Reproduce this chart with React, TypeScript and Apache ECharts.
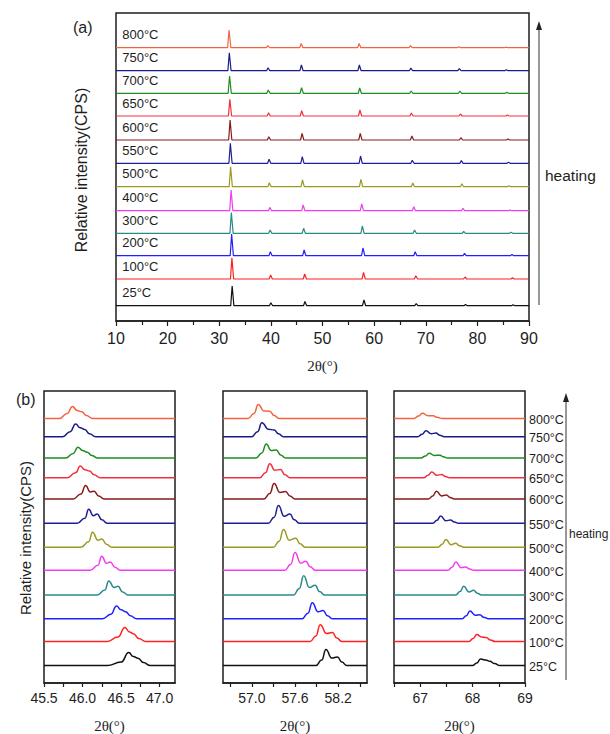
import React, { useEffect, useRef } from "react";
import * as echarts from "echarts";

// Temperatures, bottom (25°C) to top (800°C)
const temps = ["25°C", "100°C", "200°C", "300°C", "400°C", "500°C", "550°C", "600°C", "650°C", "700°C", "750°C", "800°C"];
const colors = ["#111111", "#ff2020", "#2020ff", "#2a8a8a", "#f23cf2", "#9c9a1e", "#1e1e96", "#8a1a1a", "#f2303c", "#1f8c1f", "#1a1a8a", "#f2643f"];

// (a) baseline offsets of the stacked patterns
const offsetsA = [15.3, 42, 65.3, 87.7, 110.3, 134.3, 157.7, 181, 205, 227.7, 250.3, 273.3];
// (b) baseline offsets of the stacked zooms
const offsetsB = [17.4, 41.5, 64.3, 88, 112.8, 135.8, 159.7, 184.1, 205.2, 225.1, 246.3, 264.5];

// (a) peak positions (2θ) and heights, per temperature
const pk32x = [32.5, 32.45, 32.4, 32.35, 32.3, 32.2, 32.15, 32.1, 32.05, 32.0, 31.95, 31.9];
const pk32h = [19.7, 21.3, 21.7, 20.7, 20.7, 20, 20, 20, 16.7, 17.3, 18, 17.7];
const pk40x = [40.0, 39.95, 39.9, 39.85, 39.8, 39.7, 39.65, 39.6, 39.55, 39.5, 39.45, 39.4];
const pk40h = [3, 4, 4, 3.3, 3.3, 4, 4, 3.3, 3.3, 3.3, 3, 2];
const pk46x = [46.6, 46.55, 46.44, 46.34, 46.25, 46.13, 46.08, 46.04, 45.97, 45.94, 45.91, 45.87];
const pk46h = [4.3, 5, 5.7, 5, 5.7, 6.7, 6.7, 6.7, 5.3, 5.7, 5.7, 4.3];
const pk58x = [58.03, 57.95, 57.84, 57.72, 57.6, 57.44, 57.37, 57.31, 57.25, 57.2, 57.14, 57.09];
const pk58h = [5.7, 6.7, 7.7, 7.3, 6.7, 7.3, 7.3, 6.7, 6, 5.3, 5.7, 4.3];
const pk68x = [68.15, 68.08, 67.95, 67.83, 67.68, 67.49, 67.39, 67.31, 67.22, 67.17, 67.11, 67.04];
const pk68h = [2, 3.3, 4, 3.3, 4, 3.7, 3, 4, 3, 2.3, 2.7, 2];
const pk77x = [77.7, 77.6, 77.5, 77.35, 77.2, 77.0, 76.9, 76.8, 76.7, 76.6, 76.5, 76.4];
const pk77h = [1.3, 2, 2.3, 2, 2.3, 3, 2.7, 2.3, 2, 2.3, 2, 1];
const pk87x = [86.9, 86.8, 86.7, 86.5, 86.3, 86.1, 86.0, 85.9, 85.8, 85.7, 85.6, 85.5];
const pk87h = [1, 1.3, 1.3, 1, 0.8, 1, 1, 1, 1, 1, 1, 0.5];

// (b) left: 45.5–47.2 region, key points (x) and heights above baseline
const b1X = [
  [46.32, 46.5, 46.6, 46.66, 46.72, 46.79, 46.88],
  [46.32, 46.46, 46.55, 46.61, 46.66, 46.73, 46.82],
  [46.26, 46.37, 46.44, 46.5, 46.56, 46.62, 46.7],
  [46.19, 46.29, 46.34, 46.41, 46.46, 46.52, 46.59],
  [46.1, 46.2, 46.25, 46.31, 46.36, 46.42, 46.49],
  [45.98, 46.08, 46.13, 46.2, 46.25, 46.31, 46.38],
  [45.93, 46.03, 46.08, 46.14, 46.19, 46.25, 46.32],
  [45.88, 45.98, 46.04, 46.1, 46.15, 46.21, 46.28],
  [45.8, 45.91, 45.97, 46.03, 46.09, 46.15, 46.23],
  [45.78, 45.88, 45.94, 46.0, 46.06, 46.12, 46.19],
  [45.74, 45.84, 45.91, 45.97, 46.03, 46.09, 46.17],
  [45.7, 45.8, 45.87, 45.93, 45.99, 46.05, 46.13],
];
const b1H = [
  [0, 3.5, 13, 9, 7.3, 3, 0],
  [0, 4.5, 14, 9.5, 7.7, 3, 0],
  [0, 4.5, 12.7, 9, 7, 3, 0],
  [0, 5, 14, 7.5, 8.7, 3, 0],
  [0, 5, 14, 7, 8.3, 3, 0],
  [0, 5.5, 15, 7, 8.3, 3, 0],
  [0, 5, 14, 7.5, 9.3, 3.5, 0],
  [0, 5, 13.3, 7, 7.7, 3, 0],
  [0, 5, 11.7, 8, 6.7, 3, 0],
  [0, 4.5, 10.7, 7.5, 5.7, 2.5, 0],
  [0, 5, 12.7, 9, 7.3, 3, 0],
  [0, 5, 12, 8, 6.7, 3, 0],
];

// (b) middle: 56.6–58.6 region
const b2X = [
  [57.89, 57.97, 58.03, 58.11, 58.19, 58.25, 58.32],
  [57.81, 57.89, 57.95, 58.04, 58.12, 58.18, 58.25],
  [57.7, 57.78, 57.84, 57.92, 57.99, 58.05, 58.12],
  [57.58, 57.66, 57.72, 57.8, 57.88, 57.94, 58.01],
  [57.46, 57.54, 57.6, 57.68, 57.75, 57.81, 57.88],
  [57.3, 57.38, 57.44, 57.52, 57.61, 57.67, 57.74],
  [57.23, 57.31, 57.37, 57.45, 57.53, 57.59, 57.66],
  [57.17, 57.25, 57.31, 57.39, 57.47, 57.53, 57.6],
  [57.11, 57.19, 57.25, 57.32, 57.4, 57.46, 57.53],
  [57.06, 57.14, 57.2, 57.27, 57.34, 57.4, 57.47],
  [57.0, 57.08, 57.14, 57.23, 57.31, 57.37, 57.44],
  [56.95, 57.03, 57.09, 57.17, 57.25, 57.31, 57.38],
];
const b2H = [
  [0, 5.5, 16, 7.5, 8.7, 3.5, 0],
  [0, 5.5, 16.7, 8, 9, 3.5, 0],
  [0, 5.5, 16, 7, 8.3, 3, 0],
  [0, 6.5, 19.3, 7.5, 9.7, 3.5, 0],
  [0, 6, 17.7, 7, 9, 3.5, 0],
  [0, 6, 17.7, 7, 9, 3.5, 0],
  [0, 6, 17.7, 7, 9.3, 3.5, 0],
  [0, 5.5, 15.3, 6.5, 7.3, 3, 0],
  [0, 5, 14, 7.5, 8.3, 3, 0],
  [0, 5, 14, 7.5, 8, 3, 0],
  [0, 5, 14, 7.5, 6.7, 3, 0],
  [0, 5, 14, 7.5, 7.3, 3, 0],
];

// (b) right: 66.5–69 region
const b3X = [
  [68.0, 68.08, 68.15, 68.25, 68.33, 68.42, 68.52],
  [67.93, 68.01, 68.08, 68.17, 68.26, 68.34, 68.43],
  [67.8, 67.88, 67.95, 68.05, 68.14, 68.21, 68.3],
  [67.68, 67.76, 67.83, 67.93, 68.02, 68.09, 68.17],
  [67.53, 67.61, 67.68, 67.78, 67.87, 67.94, 68.02],
  [67.34, 67.42, 67.49, 67.59, 67.68, 67.75, 67.83],
  [67.24, 67.32, 67.39, 67.49, 67.58, 67.65, 67.73],
  [67.16, 67.24, 67.31, 67.41, 67.5, 67.57, 67.65],
  [67.07, 67.15, 67.22, 67.32, 67.41, 67.48, 67.56],
  [67.02, 67.1, 67.17, 67.27, 67.38, 67.44, 67.52],
  [66.95, 67.04, 67.11, 67.21, 67.3, 67.37, 67.46],
  [66.88, 66.97, 67.04, 67.15, 67.25, 67.32, 67.42],
];
const b3H = [
  [0, 2.5, 6.7, 5.5, 4.3, 2, 0],
  [0, 3, 7, 4.5, 4, 1.5, 0],
  [0, 3, 7.7, 3.5, 4, 1.5, 0],
  [0, 3.5, 8.7, 3, 4.7, 1.8, 0],
  [0, 3, 8.3, 2.5, 3.3, 1.3, 0],
  [0, 3, 7.7, 2.5, 4, 1.5, 0],
  [0, 3, 7.3, 2.5, 3.3, 1.3, 0],
  [0, 3, 7.7, 3, 4, 1.5, 0],
  [0, 2.5, 5.7, 2.5, 3.3, 1.3, 0],
  [0, 2, 4.7, 2.5, 2.7, 1.2, 0],
  [0, 2.5, 6, 3, 3.7, 1.5, 0],
  [0, 2.5, 5.3, 2.8, 2.7, 1.2, 0],
];

// axis extents and ticks
const xRangeA = [10, 90];
const xRangeB1 = [45.5, 47.2];
const xRangeB2 = [56.6, 58.6];
const xRangeB3 = [66.5, 69];
const ticksB1 = [45.5, 45.75, 46.0, 46.25, 46.5, 46.75, 47.0];
const labelsB1 = [45.5, 46.0, 46.5, 47.0];
const ticksB2 = [56.7, 57.0, 57.3, 57.6, 57.9, 58.2, 58.5];
const labelsB2 = [57.0, 57.6, 58.2];
const ticksB3 = [66.5, 67, 67.5, 68, 68.5, 69];
const labelsB3 = [67, 68, 69];

const SANS = 'Arial, "Liberation Sans", Helvetica, sans-serif';
const SERIF = '"Times New Roman", "Liberation Serif", serif';
const INK = "#1e1e1e";

function topSeriesData(i: number): number[][] {
  const peaks = [
    [pk32x[i], pk32h[i]],
    [pk40x[i], pk40h[i]],
    [pk46x[i], pk46h[i]],
    [pk58x[i], pk58h[i]],
    [pk68x[i], pk68h[i]],
    [pk77x[i], pk77h[i]],
    [pk87x[i], pk87h[i]],
  ];
  const base = offsetsA[i];
  const pts: number[][] = [[xRangeA[0], base]];
  peaks.forEach(([x, h]) => {
    pts.push([x - 0.28, base], [x, base + h], [x + 0.34, base]);
  });
  pts.push([xRangeA[1], base]);
  return pts;
}

function zoomSeriesData(X: number[][], H: number[][], range: number[], i: number): number[][] {
  const base = offsetsB[i];
  const pts: number[][] = [[range[0], base]];
  X[i].forEach((x, k) => pts.push([x, base + H[i][k]]));
  pts.push([range[1], base]);
  return pts;
}

function xAxisBase(grid: number, range: number[], fontSize: number, margin: number, nameGap: number) {
  return {
    type: "value",
    gridIndex: grid,
    min: range[0],
    max: range[1],
    axisLine: { show: true, onZero: false, lineStyle: { color: INK, width: 1.5 } },
    axisTick: { show: true, length: 4, lineStyle: { color: INK, width: 1.2 } },
    splitLine: { show: false },
    axisLabel: { fontSize, color: INK, margin, fontFamily: SANS },
    name: "2θ(°)",
    nameLocation: "middle",
    nameGap,
    nameTextStyle: { fontFamily: SERIF, fontSize: 15, color: INK },
  };
}

export default function App() {
  const ref = useRef<HTMLDivElement>(null);
  useEffect(() => {
    if (!ref.current) return;
    const chart = echarts.init(ref.current, undefined, { renderer: "svg" });
    const grids = [
      { left: 116, top: 13, width: 413, height: 308 },
      { left: 44, top: 391, width: 131, height: 292 },
      { left: 223, top: 391, width: 144, height: 292 },
      { left: 394, top: 391, width: 131, height: 292 },
    ].map((g) => ({ ...g, show: true, borderColor: INK, borderWidth: 1.5, backgroundColor: "transparent" }));

    const xA: any = xAxisBase(0, xRangeA, 16, 9, 37);
    xA.interval = 10;
    xA.axisTick.length = 5;
    xA.minorTick = { show: true, splitNumber: 2, length: 4, lineStyle: { color: INK, width: 1.2 } };
    xA.minorSplitLine = { show: false };

    const mk = (grid: number, range: number[], ticks: number[], labels: number[], digits: number) => {
      const ax: any = xAxisBase(grid, range, 14, 8, 35);
      ax.axisTick.customValues = ticks;
      ax.axisLabel.customValues = labels;
      ax.axisLabel.formatter = (v: number) => v.toFixed(digits);
      return ax;
    };
    const xAxes = [xA, mk(1, xRangeB1, ticksB1, labelsB1, 1), mk(2, xRangeB2, ticksB2, labelsB2, 1), mk(3, xRangeB3, ticksB3, labelsB3, 0)];
    const yAxes = [308, 292, 292, 292].map((mx, g) => ({
      type: "value",
      gridIndex: g,
      min: 0,
      max: mx,
      axisLine: { show: false },
      axisTick: { show: false },
      axisLabel: { show: false },
      splitLine: { show: false },
    }));

    const series: any[] = [];
    temps.forEach((t, i) => {
      series.push({
        type: "line", name: t, xAxisIndex: 0, yAxisIndex: 0, data: topSeriesData(i),
        showSymbol: false, lineStyle: { color: colors[i], width: 1.2 }, itemStyle: { color: colors[i] }, silent: true,
      });
      [[b1X, b1H, xRangeB1], [b2X, b2H, xRangeB2], [b3X, b3H, xRangeB3]].forEach(([X, H, r]: any, p) => {
        series.push({
          type: "line", name: t, xAxisIndex: p + 1, yAxisIndex: p + 1, data: zoomSeriesData(X, H, r, i),
          showSymbol: false, smooth: 0.5, smoothMonotone: "x",
          lineStyle: { color: colors[i], width: 1.5 }, itemStyle: { color: colors[i] }, silent: true,
        });
      });
    });

    chart.setOption({
      animation: false,
      backgroundColor: "#ffffff",
      grid: grids,
      xAxis: xAxes,
      yAxis: yAxes,
      series,
    });

    const graphic: any[] = [];
    // temperature labels, panel (a) and panel (b) right side
    temps.forEach((t, i) => {
      const p = chart.convertToPixel({ xAxisIndex: 0, yAxisIndex: 0 }, [11.2, offsetsA[i]]) as number[];
      graphic.push({
        type: "text", x: p[0], y: p[1] - 13,
        style: { text: t, fontSize: 13, fontFamily: SANS, fill: INK, align: "left", verticalAlign: "middle" },
      });
      const q = chart.convertToPixel({ xAxisIndex: 3, yAxisIndex: 3 }, [xRangeB3[1], offsetsB[i]]) as number[];
      graphic.push({
        type: "text", x: q[0] + 4, y: q[1] + 1.5,
        style: { text: t, fontSize: 12.5, fontFamily: SANS, fill: INK, align: "left", verticalAlign: "middle" },
      });
    });
    graphic.push(
      { type: "text", x: 73, y: 27, style: { text: "(a)", fontSize: 16, fontFamily: SANS, fill: INK, verticalAlign: "middle" } },
      { type: "text", x: 16, y: 399, style: { text: "(b)", fontSize: 16, fontFamily: SANS, fill: INK, verticalAlign: "middle" } },
      { type: "text", x: 81, y: 170, rotation: Math.PI / 2,
        style: { text: "Relative intensity(CPS)", fontSize: 16, fontFamily: SANS, fill: INK, align: "center", verticalAlign: "middle" } },
      { type: "text", x: 25, y: 538, rotation: Math.PI / 2,
        style: { text: "Relative intensity(CPS)", fontSize: 15, fontFamily: SANS, fill: INK, align: "center", verticalAlign: "middle" } },
      { type: "line", shape: { x1: 539, y1: 305, x2: 539, y2: 28 }, style: { stroke: "#333", lineWidth: 1 } },
      { type: "polygon", shape: { points: [[536, 30], [539, 21], [542, 30]] }, style: { fill: "#222" } },
      { type: "text", x: 545, y: 175, style: { text: "heating", fontSize: 15.5, fontFamily: SANS, fill: INK, verticalAlign: "middle" } },
      { type: "line", shape: { x1: 566, y1: 680, x2: 566, y2: 400 }, style: { stroke: "#333", lineWidth: 1 } },
      { type: "polygon", shape: { points: [[563, 402], [566, 393], [569, 402]] }, style: { fill: "#222" } },
      { type: "text", x: 569, y: 534, style: { text: "heating", fontSize: 12, fontFamily: SANS, fill: INK, verticalAlign: "middle" } },
    );
    chart.setOption({ graphic });

    return () => chart.dispose();
  }, []);
  return <div ref={ref} style={{ position: "fixed", left: 0, top: 0, width: 610, height: 734 }} />;
}
